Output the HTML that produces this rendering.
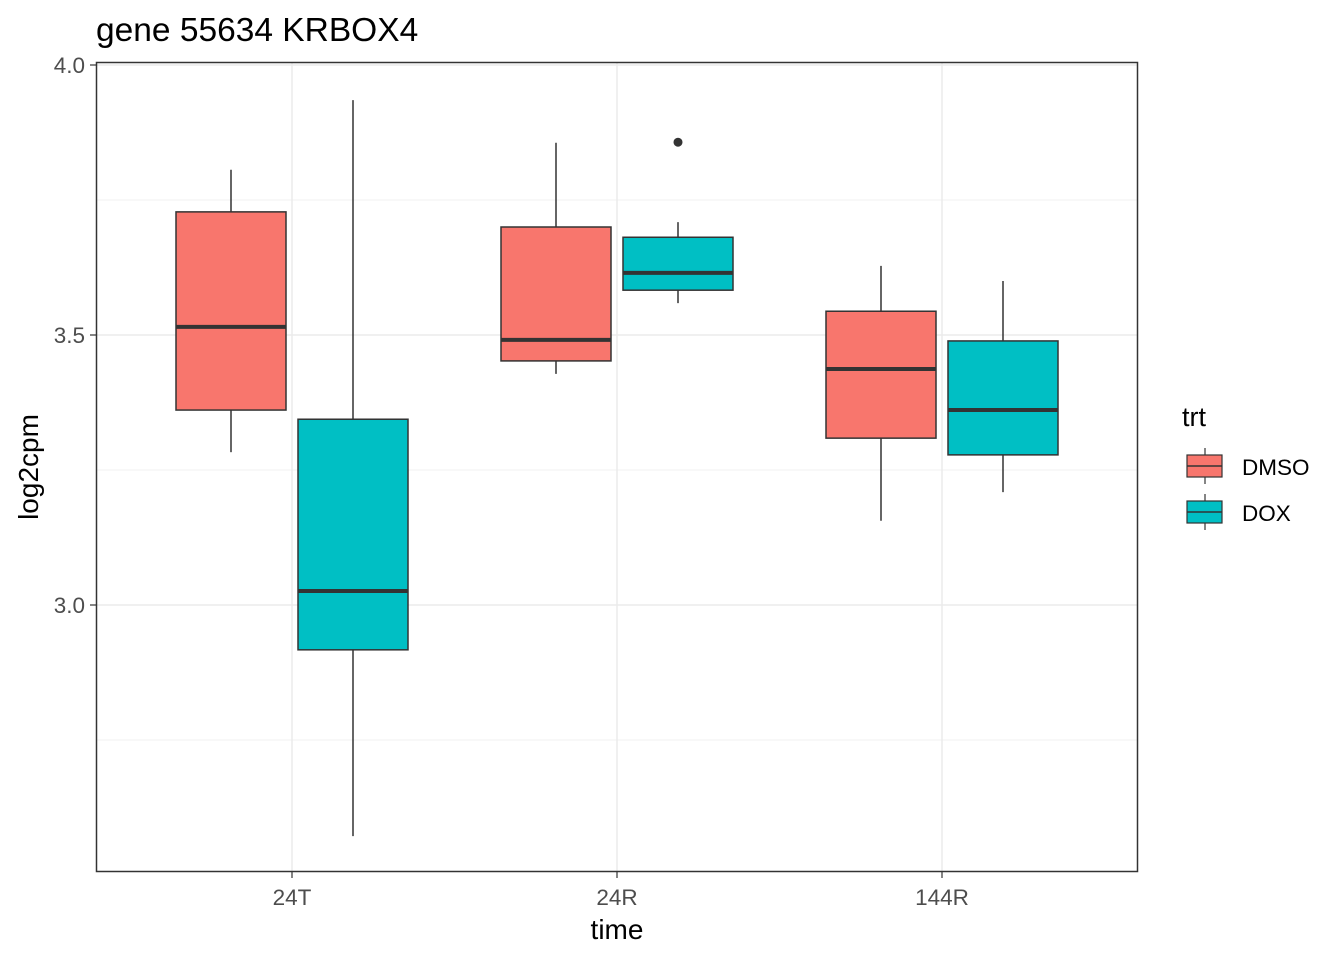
<!DOCTYPE html>
<html><head><meta charset="utf-8"><style>
body{margin:0;background:#fff;}
text{font-family:"Liberation Sans",sans-serif;}
</style></head><body>
<svg id="chart" width="1344" height="960" xmlns="http://www.w3.org/2000/svg">
<text x="96" y="41" font-size="33.5" fill="#000">gene 55634 KRBOX4</text>
<g id="grid"></g>
<g id="boxes"></g>
<rect x="96.5" y="62.5" width="1041" height="809" fill="none" stroke="#333" stroke-width="1.5"/>
<g id="axes"></g>
<text x="617" y="939" font-size="28" text-anchor="middle" fill="#000">time</text>
<text transform="translate(38,467) rotate(-90)" font-size="28" text-anchor="middle" fill="#000">log2cpm</text>
<g>
<text x="1182" y="426" font-size="27" fill="#000">trt</text>
<g>
<line x1="1205" y1="448" x2="1205" y2="484" stroke="#333" stroke-width="1.2"/>
<rect x="1187" y="455" width="35" height="22" fill="#F8766D" stroke="#333" stroke-width="1.2"/>
<line x1="1187" y1="466" x2="1222" y2="466" stroke="#333" stroke-width="1.5"/>
<text x="1242" y="475" font-size="22.5" fill="#000">DMSO</text></g>
<g>
<line x1="1205" y1="494" x2="1205" y2="530" stroke="#333" stroke-width="1.2"/>
<rect x="1187" y="501" width="35" height="22" fill="#00BFC4" stroke="#333" stroke-width="1.2"/>
<line x1="1187" y1="512" x2="1222" y2="512" stroke="#333" stroke-width="1.5"/>
<text x="1242" y="521" font-size="22.5" fill="#000">DOX</text></g>
</g>
</svg>
<script>
const categories=["24T","24R","144R"];
const groups=["DMSO","DOX"];
const colors=["#F8766D","#00BFC4"];
const yTicks=[3.0,3.5,4.0];
const yMinor=[2.75,3.25,3.75];
// [lowerWhisker, q1, median, q3, upperWhisker] per category
const dmsoStats=[[3.283,3.361,3.515,3.728,3.806],[3.428,3.452,3.491,3.700,3.856],[3.156,3.309,3.437,3.544,3.628]];
const doxStats=[[2.572,2.917,3.026,3.344,3.935],[3.559,3.583,3.615,3.681,3.709],[3.209,3.278,3.361,3.489,3.600]];
const outliers=[{cat:1,grp:1,v:3.857}];
const NS="http://www.w3.org/2000/svg";
function y(v){return 65+(4-v)*540;}
function x(i){return 292+i*325;}
function mk(tag,attrs,parent){const e=document.createElementNS(NS,tag);for(const k in attrs)e.setAttribute(k,attrs[k]);parent.appendChild(e);return e;}
const grid=document.getElementById('grid'),boxes=document.getElementById('boxes'),axes=document.getElementById('axes');
yMinor.forEach(v=>{const l=mk('line',{x1:97,x2:1137,y1:y(v),y2:y(v),stroke:'#f2f2f2','stroke-width':1},grid);

});
yTicks.forEach(v=>{const l=mk('line',{x1:97,x2:1137,y1:y(v),y2:y(v),stroke:'#ebebeb','stroke-width':1.5},grid);


const t=mk('line',{x1:90,x2:96,y1:y(v),y2:y(v),stroke:'#333','stroke-width':1.2},axes);


const tx=mk('text',{x:85,y:y(v)+8,'font-size':22.5,'text-anchor':'end',fill:'#4d4d4d'},axes);tx.textContent=v.toFixed(1);

});
categories.forEach((c,i)=>{const l=mk('line',{x1:x(i),x2:x(i),y1:63,y2:871,stroke:'#ebebeb','stroke-width':1.5},grid);


const t=mk('line',{x1:x(i),x2:x(i),y1:872,y2:878,stroke:'#333','stroke-width':1.2},axes);


const tx=mk('text',{x:x(i),y:905,'font-size':22.5,'text-anchor':'middle',fill:'#4d4d4d'},axes);tx.textContent=c;

});
[dmsoStats,doxStats].forEach((stats,g)=>{stats.forEach((s,i)=>{
const cx=x(i)+(g===0?-61:61),w=110;
const grp=mk('g',{},boxes);


mk('line',{x1:cx,x2:cx,y1:y(s[4]),y2:y(s[3]),stroke:'#333','stroke-width':1.5},grp);
mk('line',{x1:cx,x2:cx,y1:y(s[1]),y2:y(s[0]),stroke:'#333','stroke-width':1.5},grp);
mk('rect',{x:cx-w/2,y:y(s[3]),width:w,height:y(s[1])-y(s[3]),fill:colors[g],stroke:'#333','stroke-width':1.5},grp);
mk('line',{x1:cx-w/2,x2:cx+w/2,y1:y(s[2]),y2:y(s[2]),stroke:'#333','stroke-width':4},grp);
});});
outliers.forEach(o=>{const c=mk('circle',{cx:x(o.cat)+(o.grp===0?-61:61),cy:y(o.v),r:4.5,fill:'#333'},boxes);

});
</script>
</body></html>
